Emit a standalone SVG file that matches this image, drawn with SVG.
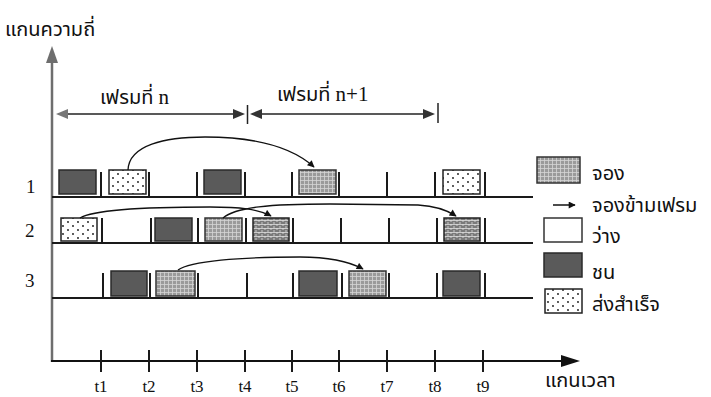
<svg xmlns="http://www.w3.org/2000/svg" width="711" height="397" viewBox="0 0 711 397">
<style>
.th{font-family:"Noto Sans Thai","Noto Serif Thai","Noto Sans","DejaVu Sans",sans-serif;font-size:20px;fill:#111}
.lat{font-family:"Liberation Serif","Times New Roman",serif;font-size:17px;fill:#111}
.num{font-family:"Liberation Serif","Times New Roman",serif;font-size:19px;fill:#111}
.n{font-family:"Liberation Serif","Times New Roman",serif;font-size:21px}
.row{stroke:#1a1a1a;stroke-width:2;fill:none}
.sep{stroke:#1a1a1a;stroke-width:2}
.dark{fill:#5a5a5a;stroke:#2a2a2a;stroke-width:1.5}
.grid{fill:url(#pgrid);stroke:#333;stroke-width:1.5}
.brick{fill:url(#pbrick);stroke:#222;stroke-width:1.5}
.dots{fill:url(#pdots);stroke:#222;stroke-width:1.5}
.empty{fill:#fff;stroke:#333;stroke-width:1.5}
.cur{fill:none;stroke:#111;stroke-width:1.3}
</style>
<defs>
<pattern id="pgrid" width="4" height="4" patternUnits="userSpaceOnUse">
<rect width="4" height="4" fill="#9a9a9a"/>
<path d="M0.5 0V4M0 0.5H4" stroke="#d6d6d6" stroke-width="0.8"/>
</pattern>
<pattern id="pbrick" width="6" height="4" patternUnits="userSpaceOnUse">
<rect width="6" height="4" fill="#7a7a7a"/>
<path d="M0 0.5H6M1 0V2M4 2V4" stroke="#e0e0e0" stroke-width="0.8"/>
</pattern>
<pattern id="pdots" width="10" height="8" patternUnits="userSpaceOnUse">
<rect width="10" height="8" fill="#fff"/>
<circle cx="3" cy="2" r="0.9" fill="#111"/>
<circle cx="8" cy="6" r="0.9" fill="#111"/>
</pattern>
<marker id="ah" viewBox="0 0 10 10" refX="9" refY="5" markerWidth="9" markerHeight="7" orient="auto" markerUnits="userSpaceOnUse">
<path d="M0 0L10 5L0 10Z" fill="#111"/>
</marker>
</defs>
<rect width="711" height="397" fill="#fff"/>
<g id="axes">
<line x1="52" y1="58" x2="52" y2="362" stroke="#6e6e6e" stroke-width="2.5"/>
<path d="M52 46L58 63L46 63Z" fill="#6e6e6e"/>
<line x1="51" y1="361" x2="565" y2="361" stroke="#111" stroke-width="2"/>
<path d="M580 361L561 355L561 367Z" fill="#111"/>
<g class="sep">
<line x1="101" y1="350" x2="101" y2="372"/><line x1="149" y1="350" x2="149" y2="372"/>
<line x1="197" y1="350" x2="197" y2="372"/><line x1="245" y1="350" x2="245" y2="372"/>
<line x1="292" y1="350" x2="292" y2="372"/><line x1="339" y1="350" x2="339" y2="372"/>
<line x1="387" y1="350" x2="387" y2="372"/><line x1="435" y1="350" x2="435" y2="372"/>
<line x1="483" y1="350" x2="483" y2="372"/>
</g>
<g class="lat" text-anchor="middle">
<text x="101" y="392">t1</text><text x="149" y="392">t2</text><text x="197" y="392">t3</text>
<text x="245" y="392">t4</text><text x="292" y="392">t5</text><text x="339" y="392">t6</text>
<text x="387" y="392">t7</text><text x="435" y="392">t8</text><text x="483" y="392">t9</text>
</g>
<text class="th" x="5" y="36">แกนความถี่</text>
<text class="th" x="545" y="387" font-size="23">แกนเวลา</text>
</g>
<g id="frames">
<line x1="60" y1="114" x2="240" y2="114" stroke="#222" stroke-width="1.5"/>
<line x1="256" y1="114" x2="430" y2="114" stroke="#222" stroke-width="1.5"/>
<path d="M56 114L68 109L68 119Z" fill="#777"/>
<path d="M245 114L233 109L233 119Z" fill="#333"/>
<path d="M250 114L262 109L262 119Z" fill="#333"/>
<path d="M435 114L423 109L423 119Z" fill="#333"/>
<line x1="247.5" y1="105" x2="247.5" y2="124" stroke="#222" stroke-width="1.5"/>
<line x1="438" y1="103" x2="438" y2="123" stroke="#222" stroke-width="1.5"/>
<text class="th" x="100" y="104" font-size="22">เฟรมที่ <tspan class="n">n</tspan></text>
<text class="th" x="277" y="101" font-size="22">เฟรมที่ <tspan class="n">n+1</tspan></text>
</g>
<g id="row1">
<text class="num" x="26" y="193">1</text>
<line class="row" x1="52" y1="197" x2="533" y2="197"/>
<g class="sep">
<line x1="101" y1="172" x2="101" y2="197"/><line x1="149" y1="172" x2="149" y2="197"/>
<line x1="197" y1="172" x2="197" y2="197"/><line x1="245" y1="172" x2="245" y2="197"/>
<line x1="292" y1="172" x2="292" y2="197"/><line x1="339" y1="172" x2="339" y2="197"/>
<line x1="387" y1="172" x2="387" y2="197"/><line x1="435" y1="172" x2="435" y2="197"/>
<line x1="485" y1="172" x2="485" y2="197"/>
</g>
<rect class="dark" x="59" y="170" width="37" height="24"/>
<rect class="dots" x="109" y="170" width="37" height="24"/>
<rect class="dark" x="204" y="170" width="37" height="24"/>
<rect class="grid" x="299" y="170" width="37" height="24"/>
<rect class="dots" x="443" y="170" width="37" height="24"/>
</g>
<g id="row2">
<text class="num" x="25" y="237">2</text>
<line class="row" x1="52" y1="243" x2="533" y2="243"/>
<g class="sep">
<line x1="102" y1="218" x2="102" y2="243"/><line x1="151" y1="218" x2="151" y2="243"/>
<line x1="198" y1="218" x2="198" y2="243"/><line x1="246" y1="218" x2="246" y2="243"/>
<line x1="293" y1="218" x2="293" y2="243"/><line x1="341" y1="218" x2="341" y2="243"/>
<line x1="389" y1="218" x2="389" y2="243"/><line x1="437" y1="218" x2="437" y2="243"/>
<line x1="485" y1="218" x2="485" y2="243"/>
</g>
<rect class="dots" x="61" y="218" width="36" height="23"/>
<rect class="dark" x="155" y="218" width="37" height="23"/>
<rect class="grid" x="205" y="218" width="37" height="23"/>
<rect class="brick" x="253" y="218" width="36" height="23"/>
<rect class="brick" x="444" y="218" width="36" height="23"/>
</g>
<g id="row3">
<text class="num" x="25" y="287">3</text>
<line class="row" x1="52" y1="298" x2="533" y2="298"/>
<g class="sep">
<line x1="103" y1="273" x2="103" y2="298"/><line x1="150" y1="273" x2="150" y2="298"/>
<line x1="198" y1="273" x2="198" y2="298"/><line x1="247" y1="273" x2="247" y2="298"/>
<line x1="293" y1="273" x2="293" y2="298"/><line x1="342" y1="273" x2="342" y2="298"/>
<line x1="389" y1="273" x2="389" y2="298"/><line x1="437" y1="273" x2="437" y2="298"/>
<line x1="485" y1="273" x2="485" y2="298"/>
</g>
<rect class="dark" x="111" y="271" width="36" height="25"/>
<rect class="grid" x="156" y="271" width="39" height="25"/>
<rect class="dark" x="299" y="271" width="38" height="25"/>
<rect class="grid" x="349" y="271" width="37" height="25"/>
<rect class="dark" x="443" y="271" width="37" height="25"/>
</g>
<g id="connectors">
<path class="cur" d="M128 170C129 145 165 137 205 137C255 137 292 147 314 167" marker-end="url(#ah)"/>
<path class="cur" d="M80 218C95 209 150 207 210 207C240 207 258 209 271 216" marker-end="url(#ah)"/>
<path class="cur" d="M223 218C236 207 270 204 330 204L418 205C435 206 447 210 456 216" marker-end="url(#ah)"/>
<path class="cur" d="M178 270C190 261 240 257 300 257C332 257 350 262 363 269" marker-end="url(#ah)"/>
</g>
<g id="legend">
<rect class="grid" x="537" y="157" width="43" height="26"/>
<text class="th" x="592" y="180" font-size="21">จอง</text>
<line x1="553" y1="205" x2="575" y2="205" stroke="#111" stroke-width="1.5" marker-end="url(#ah)"/>
<text class="th" x="592" y="212" font-size="21">จองข้ามเฟรม</text>
<rect class="empty" x="544" y="218" width="38" height="24"/>
<text class="th" x="592" y="243" font-size="21">ว่าง</text>
<rect class="dark" x="544" y="253" width="38" height="24"/>
<text class="th" x="592" y="279" font-size="21">ชน</text>
<rect class="dots" x="545" y="289" width="37" height="24"/>
<text class="th" x="592" y="311" font-size="21">ส่งสำเร็จ</text>
</g>
</svg>
